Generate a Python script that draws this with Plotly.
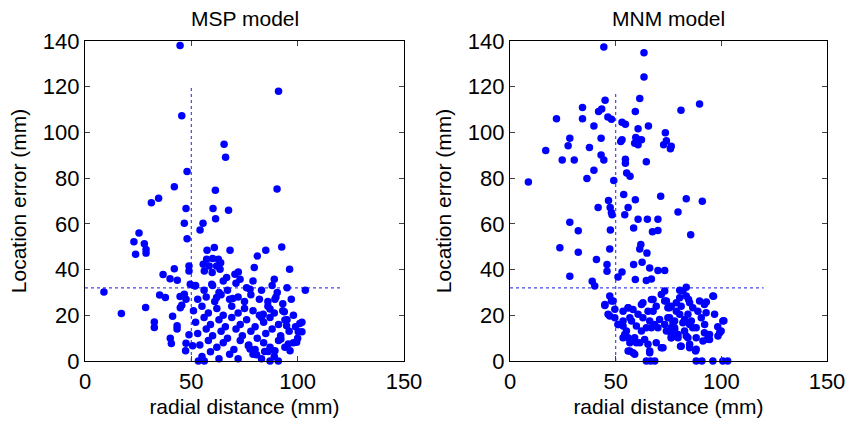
import plotly.graph_objects as go

# ---- MSP model (left panel): radial distance vs location error (mm) ----
msp_x = [44.7, 45.5, 91, 65.4, 66.1, 48, 42, 61.3, 90.3, 34.6, 31.2, 47.5, 67.5, 60.2, 61.4,
         46.7, 55.5, 54.1, 25.4, 23, 27.9, 28.7, 23.8, 28.7, 48, 57.4, 60.8, 68.2, 92.5, 85,
         81, 79.6, 96.2, 89, 103.6, 90.4, 89.8, 89.3,
         57.2, 60, 62.7, 63.8, 55.6, 58.4, 61.9, 56.1, 59.8, 63.5,
         48.9, 48.9, 42, 36.7, 40, 43.4, 49.5, 51.7, 8.9, 35.1, 37.8, 44.7, 46.7, 47.5, 45.5,
         44.8, 17.1, 28.5, 32.6, 32.6, 41.2, 43.3, 43.3, 40.1, 40.6, 47.5, 47.3, 48.9, 50.6,
         53.3, 56.1,
         87, 93.7, 83.8, 83, 94, 94.8, 101, 100.3, 102, 99.5, 96.4, 95.6, 92.1, 89.3, 86.2,
         84.5, 80.7, 87, 90.9, 77.6, 76.8,
         70.5, 72.1, 66.6, 65, 59.6, 72.9, 77.6, 61.9, 69.5,
         52, 56, 60, 63, 67, 71, 76, 79, 83, 88, 95,
         53, 57, 61, 64, 68, 72, 75, 78, 82, 86, 93, 97,
         51, 55, 58, 62, 65, 69, 72, 75, 79, 82, 86, 89, 93, 98,
         52, 56, 59, 63, 66, 69, 73, 76, 80, 84, 87, 91, 95, 99, 102,
         53, 57, 60, 64, 67, 71, 74, 78, 81, 85, 88, 92, 96, 100,
         54, 58, 62, 65, 70, 73, 77, 80, 84, 87, 91, 94, 98,
         55, 59, 63, 68, 72, 79, 83, 89]
msp_y = [138, 107.3, 118, 94.8, 89.1, 82.9, 76.2, 74.7, 75.3, 71.2, 69.2, 66.7, 66, 66.7, 62.2,
         60.3, 60.3, 57.3, 56, 52.2, 51.3, 48.8, 46.7, 47.2, 53.5, 48.4, 49.7, 48.4, 49.9, 48.4,
         45.9, 40.9, 40.1, 35.8, 31, 30, 28, 27,
         44.5, 44.8, 44.5, 43, 42.3, 41.6, 41.6, 39.4, 38.7, 40.1,
         41.6, 39.4, 40.4, 37.8, 36, 35.3, 33.6, 32.8, 30.2, 28.9, 27.8, 28.2, 29.2, 27, 24.4,
         23.3, 20.8, 23.4, 17.1, 14.7, 19.6, 15.4, 14, 10, 7.7, 7.8, 4.5, 11.5, 6.7,
         0, 0,
         22.7, 21.5, 20.5, 19, 17.9, 15.4, 16.4, 12.8, 12.8, 8.2, 4.5, 7.4, 9.6, 4.5, 4.2,
         4.2, 2.7, 0, 0, 5.2, 6.7,
         37.9, 38.9, 36.5, 35, 33.6, 35.8, 31.4, 27.8, 27.3,
         33, 31, 33, 30, 31, 34, 32, 35, 31, 33, 32,
         27, 28, 26, 29, 27, 28, 26, 29, 27, 26, 25, 27,
         22, 24, 21, 23, 20, 24, 21, 23, 22, 20, 24, 21, 22, 20,
         17, 19, 16, 18, 15, 19, 16, 18, 15, 17, 19, 16, 18, 15, 17,
         12, 14, 11, 13, 10, 14, 11, 13, 10, 12, 14, 11, 13, 10,
         7, 9, 6, 8, 5, 9, 7, 5, 8, 6, 9, 6, 8,
         2, 4, 1, 3, 1, 3, 1, 2]

# ---- MNM model (right panel) ----
mnm_x = [44.4, 63.4, 63.4, 61.4, 45, 34.3, 43.4, 41.9, 59.3, 89.7, 80.9, 22, 34.3, 46.3, 48,
         53, 54.6, 39.7, 65.5, 60.6, 28.3, 43.1, 53, 52.4, 59.5, 60.6, 62.2, 59, 60.6, 73.5,
         72.7, 74, 76.3, 75.9, 27.5, 16.9, 37.6, 24.7, 30.4, 43.1, 44.4, 54.6, 54.6, 64.5,
         39.7, 55.2, 56.8, 36.4, 8.7, 49.1, 53.8, 59.3, 71.3, 46.6, 83.4, 91, 55.9, 41.7,
         47.4, 48, 48.3, 54.3, 60.6, 65, 70, 79.5, 28.3, 32.3, 47.5, 58.5, 67.4, 70, 85.5,
         61.9, 61.4, 64.8, 23.6, 32.3, 47.2, 40.9, 45.9, 45.9, 58.5, 62.5, 66.1, 70, 73.2,
         53, 51.1, 28.3, 59.3, 64.5, 66.9, 38.9, 40.1, 83.4, 80.3,
         47.2, 48.8, 44.9, 46.4, 49.6, 51.2, 53.5, 55.9, 58.2, 60.6, 62.9, 65.3, 67.7, 69.2,
         71.6, 73.2, 74, 76.3, 78.7, 80.3, 81.8, 83.4, 85, 86.5, 89.7, 92, 92.8, 96, 96.8,
         100.7, 99.9, 98.4, 94.4, 92, 88.1, 85, 82.6, 80.3, 77.9, 75.5, 73.2, 70.8, 68.5,
         66.1, 64.5, 62.2, 59.8, 57.5, 55.1, 53.5, 56.7, 59, 61.4, 63.7, 66.1, 69.2, 72.4,
         76.3, 79.5, 81, 85, 88.1, 91.3, 55.9, 58.2, 83.4, 74, 77.9, 53.5,
         48, 44.9, 49.6, 47.2, 51.1, 53.5, 55.9, 56.7, 54.3, 55.9, 56.7, 59, 59.8, 62.2,
         62.9, 66.9, 67.7, 66.9, 65.3, 66.1, 71.6, 70, 74.7, 76.3, 76.3,
         73.2, 75.5, 74.7, 77.1, 76.3, 79.5, 77.9, 81.8, 84.2, 85.8, 86.5, 88.1, 88.9, 90.5,
         92.1, 82.6, 84.2, 81, 78.7, 96.3, 92.9, 84.5, 101.2, 98.3, 99.2, 94.4, 93.3, 80.7,
         85, 87.8,
         64.5, 66.5, 68.5, 88.1, 90.8, 96, 100.7, 103]
mnm_y = [137.4, 134.9, 124.3, 114.8, 114.1, 110.9, 110.3, 109.2, 109.2, 112.4, 109.7, 106,
         106, 106.7, 105.8, 104.4, 103.6, 102.8, 102.8, 101.6, 97.4, 97.4, 96.8, 96, 97.8,
         96.8, 96.8, 95.3, 94.6, 99.9, 94.6, 96.4, 93.9, 92.9, 94.2, 92.1, 93.4, 87.9, 87.9,
         90.1, 87.9, 88.3, 86.5, 87.2, 83.5, 82.2, 80.8, 79.8, 78.3, 79, 72.8, 70.6, 72.1,
         70.2, 71, 69.9, 67.2, 67.2, 67.2, 65, 64, 64, 62, 62, 62, 65.2, 60.7, 57, 57.3, 58.2,
         56.5, 57.1, 55.2, 51, 49, 47.2, 49.5, 47.6, 49, 44.4, 42.2, 39.3, 42.2, 43.2, 40.7,
         39.6, 39.6, 38.9, 36.7, 37.1, 35.7, 35.2, 35.9, 34.9, 32.8, 32.3, 30.9,
         28.4, 26.2, 24.7, 20.4, 18.9, 16, 21.8, 23.3, 22.5, 20.4, 25.5, 21.8, 26.9, 24,
         29.1, 30.6, 26.2, 24, 25.5, 27.7, 30.6, 28.4, 25.5, 23.3, 26.2, 24.7, 21.1, 28.4,
         20.4, 17.5, 13.1, 10.9, 9.4, 12.4, 14.6, 16, 18.2, 20.4, 17.5, 18.9, 16, 18.2, 16,
         17.5, 14.6, 13.1, 15.3, 17.5, 13.1, 10.2, 8, 10.2, 8, 9.4, 4.4, 8, 5.8,
         10.2, 11.6, 6.5, 7.3, 5.1, 8.7, 4.4, 3.6, 10.9, 13.1, 13.8, 17.5,
         26.2, 24.3, 22.6, 19.7, 16, 15.3, 23.3, 18.9, 11.6, 10.2, 4.4, 2.9, 8, 24.7,
         18.9, 26.9, 21.8, 14.6, 7.3, 3.6, 5.8, 14.6, 23.3, 14.6, 10.2,
         26.2, 23.3, 18.9, 16.7, 11.6, 10.2, 14.6, 16.7, 20.4, 17.5, 14.6, 10.2, 21.8, 18.9,
         16, 13.1, 10.2, 24, 21.8, 28.3, 25.8, 26.9, 17.6, 15, 12.4, 11.6, 9.5, 6.5,
         5.8, 4.4,
         0, 0, 0, 0, 0, 0, 0, 0]

# dotted reference lines (x = 50 mm, error = 32 mm)
msp_vline_y = [0, 120]
msp_hline_x = [0, 120]
mnm_vline_y = [0, 118]
mnm_hline_x = [0, 120]
ref_x = 50
ref_y = 32

FONT = "Liberation Sans, Arial, Helvetica, sans-serif"
BLUE = "rgb(0,0,255)"
DOT = dict(color="rgb(70,70,235)", width=1.2, dash="dot")
TXT = 21

# full-window figure; the page margin is removed below (post_script)
W, H = 845, 421
L1, R1, L2, R2 = 85, 404, 510, 827
TOP, BOT = 41, 361

fig = go.Figure()

for xs, ys, vl, hl, xa, ya in [
    (msp_x, msp_y, msp_vline_y, msp_hline_x, "x", "y"),
    (mnm_x, mnm_y, mnm_vline_y, mnm_hline_x, "x2", "y2"),
]:
    fig.add_trace(go.Scatter(x=[ref_x, ref_x], y=vl, mode="lines", line=DOT,
                             xaxis=xa, yaxis=ya, hoverinfo="skip"))
    fig.add_trace(go.Scatter(x=hl, y=[ref_y, ref_y], mode="lines", line=DOT,
                             xaxis=xa, yaxis=ya, hoverinfo="skip"))
    fig.add_trace(go.Scatter(x=xs, y=ys, mode="markers", cliponaxis=False,
                             marker=dict(color=BLUE, size=7.5, line=dict(width=0)),
                             xaxis=xa, yaxis=ya))

x_common = dict(range=[0, 150], tickvals=[0, 50, 100, 150], ticks="inside", ticklen=5,
                showline=True, mirror="ticks", linecolor="black", linewidth=1.2,
                showgrid=False, zeroline=False, automargin=False,
                ticklabeloverflow="allow",
                tickfont=dict(size=TXT + 1, color="black"),
                title=dict(text="radial distance (mm)", font=dict(size=TXT, color="black"),
                           standoff=6))
y_common = dict(range=[0, 140], tickvals=list(range(0, 141, 20)), ticks="inside", ticklen=5,
                showline=True, mirror="ticks", linecolor="black", linewidth=1.2,
                showgrid=False, zeroline=False, automargin=False,
                ticklabeloverflow="allow",
                tickfont=dict(size=TXT + 1, color="black"),
                title=dict(text="Location error (mm)", font=dict(size=TXT, color="black"),
                           standoff=10))

fig.update_layout(
    width=W, height=H,
    margin=dict(l=0, r=0, t=TOP, b=H - BOT),
    paper_bgcolor="white", plot_bgcolor="white",
    font=dict(family=FONT, color="black"),
    showlegend=False,
    xaxis=dict(x_common, domain=[L1 / W, R1 / W], anchor="y"),
    yaxis=dict(y_common, domain=[0, 1], anchor="x"),
    xaxis2=dict(x_common, domain=[L2 / W, R2 / W], anchor="y2"),
    yaxis2=dict(y_common, domain=[0, 1], anchor="x2"),
    annotations=[
        dict(text="MSP model", x=(L1 + R1) / 2 / W, y=1, xref="paper", yref="paper",
             xanchor="center", yanchor="bottom", yshift=9, showarrow=False,
             font=dict(size=TXT, color="black")),
        dict(text="MNM model", x=(L2 + R2) / 2 / W, y=1, xref="paper", yref="paper",
             xanchor="center", yanchor="bottom", yshift=9, showarrow=False,
             font=dict(size=TXT, color="black")),
    ],
)

fig.write_html("out.html", config={"displayModeBar": False},
               post_script="document.body.style.margin='0';document.body.style.overflow='hidden';")
